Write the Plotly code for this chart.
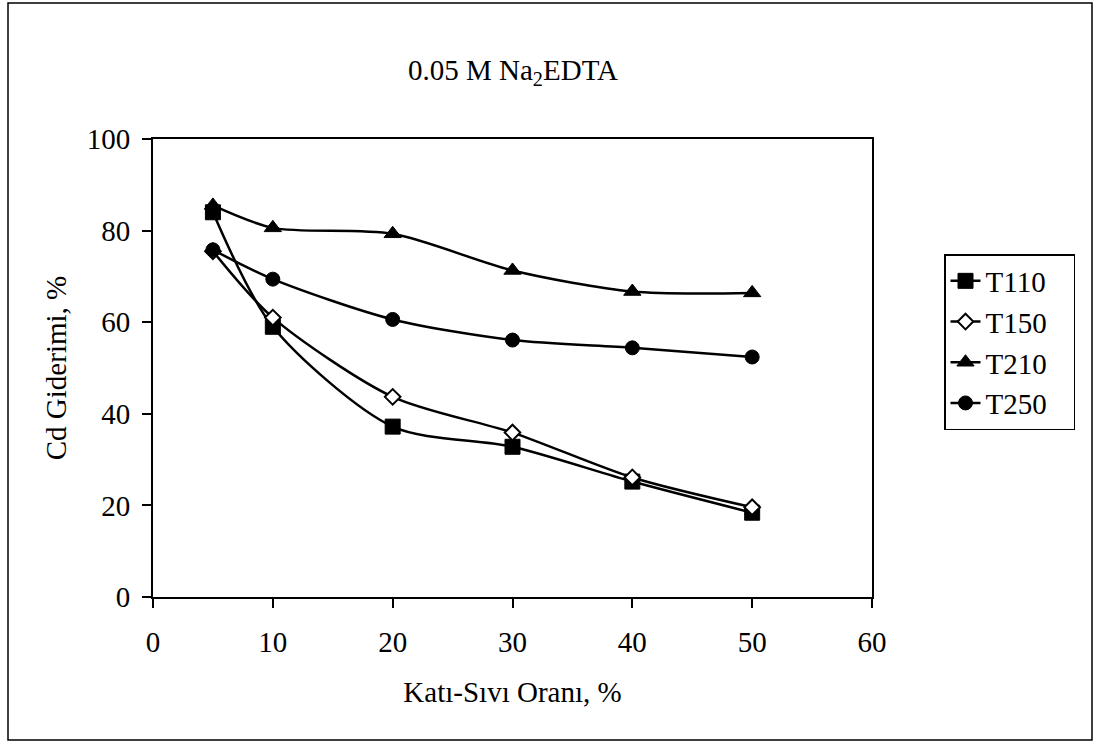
import plotly.graph_objects as go

x_vals = [5, 10, 20, 30, 40, 50]
t110 = [84.0, 59.0, 37.2, 32.8, 25.2, 18.4]
t150 = [75.5, 61.0, 43.7, 35.9, 26.1, 19.6]
t210 = [85.5, 80.6, 79.3, 71.3, 66.7, 66.4]
t250 = [75.8, 69.4, 60.6, 56.1, 54.4, 52.4]
series_names = ["T110", "T150", "T210", "T250"]

FONT = "Liberation Serif, Times New Roman, serif"
FS = 29
W, H = 1096, 742
L, R, T, B = 153, 872, 139, 597

fig = go.Figure()
styles = [
    dict(symbol="square", size=15, color="black", line=dict(color="black", width=1)),
    dict(symbol="diamond", size=12, color="white", line=dict(color="black", width=2)),
    dict(symbol="triangle-up", size=15, color="black", line=dict(color="black", width=1)),
    dict(symbol="circle", size=14, color="black", line=dict(color="black", width=1)),
]
for name, ys, st in zip(series_names, [t110, t150, t210, t250], styles):
    fig.add_trace(go.Scatter(
        x=x_vals, y=ys, name=name + "\u00a0\u00a0\u00a0", mode="lines+markers",
        line=dict(color="black", width=2.5, shape="spline", smoothing=0.8),
        marker=st,
    ))

def px_x(p):
    return (p - L) / (R - L)

def px_y(p):
    return (B - p) / (B - T)

fig.update_layout(
    width=W, height=H,
    margin=dict(l=L, r=W - R, t=T, b=H - B),
    paper_bgcolor="white", plot_bgcolor="white",
    font=dict(family=FONT, size=FS, color="black"),
    showlegend=True,
    legend=dict(
        x=px_x(944), y=px_y(254), xanchor="left", yanchor="top",
        bordercolor="black", borderwidth=1.5, bgcolor="white",
        font=dict(family=FONT, size=FS, color="black"),
        tracegroupgap=0,
    ),
    xaxis=dict(
        range=[0, 60], tickvals=[0, 10, 20, 30, 40, 50, 60],
        ticks="outside", ticklen=9, tickwidth=1.5, tickcolor="black",
        ticklabelstandoff=9,
        showline=True, linecolor="black", linewidth=2, mirror=True,
        showgrid=False, zeroline=False,
        title=dict(text="Katı-Sıvı Oranı, %", standoff=25,
                   font=dict(family=FONT, size=FS)),
        tickfont=dict(family=FONT, size=FS),
    ),
    yaxis=dict(
        range=[0, 100], tickvals=[0, 20, 40, 60, 80, 100],
        ticks="outside", ticklen=9, tickwidth=1.5, tickcolor="black",
        ticklabelstandoff=6,
        showline=True, linecolor="black", linewidth=2, mirror=True,
        showgrid=False, zeroline=False,
        title=dict(text="Cd Giderimi, %", standoff=12,
                   font=dict(family=FONT, size=FS)),
        tickfont=dict(family=FONT, size=FS),
    ),
    annotations=[dict(
        text="0.05 M Na<sub>2</sub>EDTA", xref="paper", yref="paper",
        x=0.5, y=px_y(72), xanchor="center", yanchor="middle",
        showarrow=False, font=dict(family=FONT, size=FS, color="black"),
    )],
    shapes=[dict(
        type="rect", xref="paper", yref="paper",
        x0=px_x(8), x1=px_x(1092), y0=px_y(740), y1=px_y(3),
        line=dict(color="black", width=1.5), layer="below",
    )],
)

fig.write_html("out.html")
